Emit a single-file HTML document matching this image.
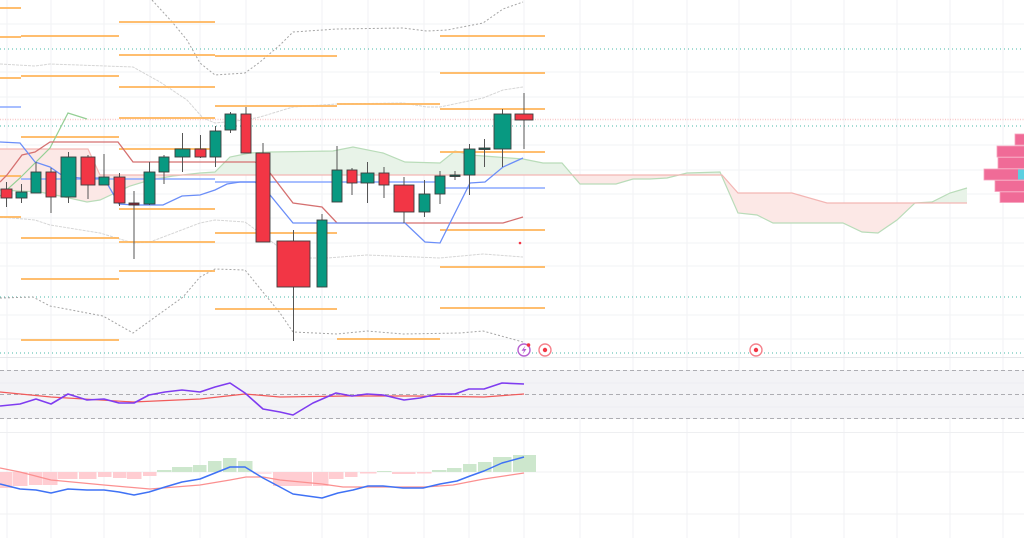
<!DOCTYPE html>
<html><head><meta charset="utf-8"><style>
html,body{margin:0;padding:0;background:#fff;}
svg{display:block;}
</style></head><body>
<svg width="1024" height="538" viewBox="0 0 1024 538" xmlns="http://www.w3.org/2000/svg">
<defs>
<clipPath id="belowB"><polygon points="0,149 88,149 100,175 722,175 738,193 792,193 827,203 967,203 967,538 0,538"/></clipPath>
<clipPath id="aboveB"><polygon points="0,149 88,149 100,175 722,175 738,193 792,193 827,203 967,203 967,0 0,0"/></clipPath>
</defs>
<rect width="1024" height="538" fill="#fff"/>
<!-- vertical grid -->
<g stroke="#f1f2f4" stroke-width="1">
<line x1="7" y1="0" x2="7" y2="538"/><line x1="51" y1="0" x2="51" y2="538"/><line x1="104" y1="0" x2="104" y2="538"/><line x1="150" y1="0" x2="150" y2="538"/><line x1="200" y1="0" x2="200" y2="538"/><line x1="246" y1="0" x2="246" y2="538"/><line x1="322" y1="0" x2="322" y2="538"/><line x1="368" y1="0" x2="368" y2="538"/><line x1="424" y1="0" x2="424" y2="538"/><line x1="469" y1="0" x2="469" y2="538"/><line x1="524" y1="0" x2="524" y2="538"/><line x1="580" y1="0" x2="580" y2="538"/><line x1="633" y1="0" x2="633" y2="538"/><line x1="687" y1="0" x2="687" y2="538"/><line x1="739" y1="0" x2="739" y2="538"/><line x1="791" y1="0" x2="791" y2="538"/><line x1="844" y1="0" x2="844" y2="538"/><line x1="897" y1="0" x2="897" y2="538"/><line x1="950" y1="0" x2="950" y2="538"/><line x1="1003" y1="0" x2="1003" y2="538"/>
</g>
<!-- horizontal grid main -->
<g stroke="#f2f3f5" stroke-width="1">
<line x1="0" y1="24" x2="1024" y2="24"/><line x1="0" y1="72" x2="1024" y2="72"/><line x1="0" y1="97" x2="1024" y2="97"/><line x1="0" y1="145" x2="1024" y2="145"/><line x1="0" y1="170" x2="1024" y2="170"/><line x1="0" y1="194" x2="1024" y2="194"/><line x1="0" y1="218" x2="1024" y2="218"/><line x1="0" y1="243" x2="1024" y2="243"/><line x1="0" y1="266" x2="1024" y2="266"/><line x1="0" y1="315" x2="1024" y2="315"/><line x1="0" y1="339" x2="1024" y2="339"/>
</g>
<!-- cloud fills -->
<g clip-path="url(#aboveB)">
<polygon fill="#fbe6e4" points="0,190 40,192 60,196 87,202 100,200 130,186 150,180 173,176 200,173 215,172 230,157 250,153 270,152 333,151 353,147 383,153 405,162 440,163 455,151 470,155 497,157 523,159 543,163 562,163 580,184 616,184 633,179 650,179 667,178 687,173 720,172 738,213 757,215 773,223 843,223 862,232 878,233 897,220 915,203 932,202 950,193 967,188 967,0 0,0" transform="scale(1,1)" style="display:none"/>
</g>
<!-- green: below A and above B -->
<g clip-path="url(#aboveB)">
<polygon fill="#e8f3e8" points="0,190 40,192 60,196 87,202 100,200 130,186 150,180 173,176 200,173 215,172 230,157 250,153 270,152 333,151 353,147 383,153 405,162 440,163 455,151 470,155 497,157 523,159 543,163 562,163 580,184 616,184 633,179 650,179 667,178 687,173 720,172 738,213 757,215 773,223 843,223 862,232 878,233 897,220 915,203 932,202 950,193 967,188 967,538 0,538"/>
</g>
<!-- red: above A and below B -->
<g clip-path="url(#belowB)">
<polygon fill="#fce8e6" points="0,190 40,192 60,196 87,202 100,200 130,186 150,180 173,176 200,173 215,172 230,157 250,153 270,152 333,151 353,147 383,153 405,162 440,163 455,151 470,155 497,157 523,159 543,163 562,163 580,184 616,184 633,179 650,179 667,178 687,173 720,172 738,213 757,215 773,223 843,223 862,232 878,233 897,220 915,203 932,202 950,193 967,188 967,0 0,0"/>
</g>
<polyline fill="none" stroke="#b9dcb9" stroke-width="1.2" points="0,190 40,192 60,196 87,202 100,200 130,186 150,180 173,176 200,173 215,172 230,157 250,153 270,152 333,151 353,147 383,153 405,162 440,163 455,151 470,155 497,157 523,159 543,163 562,163 580,184 616,184 633,179 650,179 667,178 687,173 720,172 738,213 757,215 773,223 843,223 862,232 878,233 897,220 915,203 932,202 950,193 967,188"/>
<polyline fill="none" stroke="#f3b6b4" stroke-width="1.2" points="0,149 88,149 100,175 722,175 738,193 792,193 827,203 967,203"/>
<!-- dotted levels -->
<line x1="0" y1="119.5" x2="1024" y2="119.5" stroke="#f6b3b3" stroke-width="1.5" stroke-dasharray="1 1.5" opacity="0.7"/>
<g stroke="#3fb5a5" stroke-width="1.2" stroke-dasharray="1 3" opacity="0.75">
<line x1="0" y1="49" x2="1024" y2="49"/><line x1="0" y1="126" x2="1024" y2="126"/><line x1="0" y1="297" x2="1024" y2="297"/><line x1="0" y1="353" x2="1024" y2="353"/>
</g>
<!-- gray bands -->
<polyline fill="none" stroke="#a5a5a5" stroke-width="1" stroke-dasharray="2 2" points="152,0 173,23 187,40 200,63 215,75 245,73 260,62 280,45 293,32 337,29 403,28 427,31 447,30 483,23 503,9 523,2"/>
<polyline fill="none" stroke="#a5a5a5" stroke-width="1" stroke-dasharray="2 2" points="0,298 33,297 50,306 103,316 133,333 183,297 200,277 215,269 245,270 280,313 293,332 337,334 367,331 403,334 460,333 483,331 523,342"/>
<polyline fill="none" stroke="#d6d6d6" stroke-width="1" stroke-dasharray="3 1" points="0,64 35,66 50,64 133,67 160,82 187,100 203,118 215,123 245,120 260,117 293,107 337,104 403,103 427,107 440,107 483,98 503,90 523,87"/>
<polyline fill="none" stroke="#d6d6d6" stroke-width="1" stroke-dasharray="3 1" points="0,217 35,220 50,225 100,233 133,243 150,242 200,223 215,220 245,222 263,235 293,258 327,258 367,255 440,258 483,254 523,257"/>
<!-- orange pivot levels -->
<g stroke="#ffb860" stroke-width="2" opacity="0.9">
<line x1="0" y1="8" x2="21" y2="8"/><line x1="0" y1="37" x2="21" y2="37"/><line x1="0" y1="78" x2="21" y2="78"/><line x1="0" y1="176" x2="21" y2="176"/><line x1="0" y1="217" x2="21" y2="217"/>
<line x1="21" y1="36" x2="119" y2="36"/><line x1="21" y1="76" x2="119" y2="76"/><line x1="21" y1="137" x2="119" y2="137"/><line x1="21" y1="238" x2="119" y2="238"/><line x1="21" y1="279" x2="119" y2="279"/><line x1="21" y1="340" x2="119" y2="340"/>
<line x1="119" y1="22" x2="215" y2="22"/><line x1="119" y1="55" x2="215" y2="55"/><line x1="119" y1="87" x2="215" y2="87"/><line x1="119" y1="118" x2="215" y2="118"/><line x1="119" y1="149" x2="215" y2="149"/><line x1="119" y1="209" x2="215" y2="209"/><line x1="119" y1="242" x2="215" y2="242"/><line x1="119" y1="271" x2="215" y2="271"/>
<line x1="215" y1="56" x2="337" y2="56"/><line x1="215" y1="106" x2="337" y2="106"/><line x1="215" y1="233" x2="337" y2="233"/><line x1="215" y1="309" x2="337" y2="309"/>
<line x1="337" y1="104" x2="440" y2="104"/><line x1="337" y1="339" x2="440" y2="339"/>
<line x1="440" y1="36" x2="545" y2="36"/><line x1="440" y1="73" x2="545" y2="73"/><line x1="440" y1="109" x2="545" y2="109"/><line x1="440" y1="152" x2="545" y2="152"/><line x1="440" y1="230" x2="545" y2="230"/><line x1="440" y1="267" x2="545" y2="267"/><line x1="440" y1="308" x2="545" y2="308"/>
</g>
<!-- blue pivot P levels -->
<g stroke="#8aa8ff" stroke-width="1.6">
<line x1="0" y1="107" x2="21" y2="107"/><line x1="21" y1="179" x2="215" y2="179"/><line x1="215" y1="182" x2="440" y2="182"/><line x1="440" y1="188" x2="545" y2="188"/>
</g>
<!-- ichimoku lines -->
<polyline fill="none" stroke="#94cf94" stroke-width="1.2" points="0,196 20,178 50,148 68,113 87,119"/>
<polyline fill="none" stroke="#d57070" stroke-width="1.3" points="0,182 7,175 22,155 35,152 50,142 118,142 133,162 255,162 270,173 293,203 322,207 337,223 503,223 523,217"/>
<polyline fill="none" stroke="#6b8ef8" stroke-width="1.3" points="0,142 20,143 35,162 50,167 63,176 80,178 104,178 119,204 134,205 163,205 182,196 200,195 215,190 227,184 240,182 255,182 270,195 293,223 337,223 405,223 425,242 440,243 470,183 485,182 503,167 523,158"/>
<circle cx="520" cy="243" r="1.3" fill="#f23645"/>
<!-- candles -->
<g stroke="#555" stroke-width="1">
<line x1="6.5" y1="182" x2="6.5" y2="207"/><line x1="21.5" y1="184" x2="21.5" y2="203"/><line x1="36" y1="162" x2="36" y2="193"/><line x1="51" y1="168" x2="51" y2="213"/><line x1="68.5" y1="152" x2="68.5" y2="203"/><line x1="88" y1="155" x2="88" y2="199"/><line x1="104" y1="154" x2="104" y2="185"/><line x1="119.5" y1="173" x2="119.5" y2="206"/><line x1="134" y1="191" x2="134" y2="259"/><line x1="149.5" y1="162" x2="149.5" y2="205"/><line x1="164" y1="155" x2="164" y2="184"/><line x1="182.5" y1="133" x2="182.5" y2="172"/><line x1="200.5" y1="135" x2="200.5" y2="158"/><line x1="215.5" y1="126" x2="215.5" y2="167"/><line x1="230.5" y1="112" x2="230.5" y2="133"/><line x1="246" y1="107" x2="246" y2="153"/><line x1="263" y1="143" x2="263" y2="242"/><line x1="293.5" y1="230" x2="293.5" y2="341"/><line x1="322" y1="214" x2="322" y2="287"/><line x1="337" y1="146" x2="337" y2="202"/><line x1="352" y1="168" x2="352" y2="195"/><line x1="367.5" y1="162" x2="367.5" y2="203"/><line x1="384" y1="167" x2="384" y2="198"/><line x1="404" y1="177" x2="404" y2="223"/><line x1="424.5" y1="180" x2="424.5" y2="217"/><line x1="440" y1="171" x2="440" y2="204"/><line x1="455" y1="171" x2="455" y2="180"/><line x1="469.5" y1="144" x2="469.5" y2="195"/><line x1="484.5" y1="139" x2="484.5" y2="167"/><line x1="502.5" y1="109" x2="502.5" y2="167"/><line x1="524" y1="93" x2="524" y2="149"/>
</g>
<g stroke="#3d3d3d" stroke-width="0.9">
<rect x="1" y="189" width="11" height="9" fill="#f23645"/>
<rect x="16" y="192" width="11" height="6" fill="#089981"/>
<rect x="31" y="172" width="10" height="21" fill="#089981"/>
<rect x="46" y="172" width="10" height="25" fill="#f23645"/>
<rect x="61" y="157" width="15" height="40" fill="#089981"/>
<rect x="81" y="157" width="14" height="28" fill="#f23645"/>
<rect x="99" y="177" width="10" height="8" fill="#089981"/>
<rect x="114" y="177" width="11" height="26" fill="#f23645"/>
<rect x="129" y="203" width="10" height="2" fill="#8b1f2e"/>
<rect x="144" y="172" width="11" height="32" fill="#089981"/>
<rect x="159" y="157" width="10" height="15" fill="#089981"/>
<rect x="175" y="149" width="15" height="8" fill="#089981"/>
<rect x="195" y="149" width="11" height="8" fill="#f23645"/>
<rect x="210" y="131" width="11" height="26" fill="#089981"/>
<rect x="225" y="114" width="11" height="16" fill="#089981"/>
<rect x="241" y="114" width="10" height="39" fill="#f23645"/>
<rect x="256" y="153" width="14" height="89" fill="#f23645"/>
<rect x="277" y="241" width="33" height="46" fill="#f23645"/>
<rect x="317" y="220" width="10" height="67" fill="#089981"/>
<rect x="332" y="170" width="10" height="32" fill="#089981"/>
<rect x="347" y="170" width="10" height="13" fill="#f23645"/>
<rect x="361" y="173" width="13" height="10" fill="#089981"/>
<rect x="379" y="173" width="10" height="12" fill="#f23645"/>
<rect x="394" y="185" width="20" height="27" fill="#f23645"/>
<rect x="419" y="194" width="11" height="18" fill="#089981"/>
<rect x="435" y="176" width="10" height="18" fill="#089981"/>
<rect x="450" y="175" width="10" height="1.5" fill="#0a5b4d"/>
<rect x="464" y="149" width="11" height="26" fill="#089981"/>
<rect x="479" y="148" width="11" height="1.5" fill="#0a5b4d"/>
<rect x="494" y="114" width="17" height="35" fill="#089981"/>
<rect x="515" y="114" width="18" height="6" fill="#f23645"/>
</g>
<!-- volume profile -->
<g fill="#f06b97" stroke="#f7a3be" stroke-width="0.8">
<rect x="1015" y="134" width="10" height="11"/>
<rect x="997" y="146" width="28" height="11"/>
<rect x="998" y="157.5" width="27" height="11"/>
<rect x="984" y="169" width="41" height="11"/>
<rect x="995" y="180.5" width="30" height="11"/>
<rect x="1000" y="192" width="25" height="10.5"/>
</g>
<rect x="1018" y="169.5" width="6" height="10" fill="#5ccfe0"/>
<!-- icons -->
<circle cx="524" cy="350" r="6" fill="#fff" stroke="#b65fd0" stroke-width="1.4"/>
<path d="M525.5,345.5 L521.5,350.8 L524,350.8 L522.5,354.5 L526.5,349 L524,349 Z" fill="#b65fd0"/>
<circle cx="528.5" cy="345" r="1.8" fill="#f23645"/>
<circle cx="545" cy="350" r="6" fill="#fff" stroke="#f5828c" stroke-width="1.4"/>
<circle cx="545" cy="350" r="2.2" fill="#f23645"/>
<circle cx="756" cy="350" r="6" fill="#fff" stroke="#f5828c" stroke-width="1.4"/>
<circle cx="756" cy="350" r="2.2" fill="#f23645"/>
<!-- pane separators -->
<line x1="0" y1="357.5" x2="1024" y2="357.5" stroke="#e6e7ea" stroke-width="1"/>
<line x1="0" y1="432.5" x2="1024" y2="432.5" stroke="#eeeff1" stroke-width="1"/>
<!-- RSI pane -->
<rect x="0" y="370" width="1024" height="49" fill="#f3f3f6"/>
<g stroke="#eceef2" stroke-width="1"><line x1="0" y1="383" x2="1024" y2="383"/><line x1="0" y1="407" x2="1024" y2="407"/></g>
<g stroke="#adadb2" stroke-width="1" stroke-dasharray="4 3">
<line x1="0" y1="370.5" x2="1024" y2="370.5"/><line x1="0" y1="394.5" x2="1024" y2="394.5"/><line x1="0" y1="418.5" x2="1024" y2="418.5"/>
</g>
<polyline fill="none" stroke="#f25a5a" stroke-width="1.2" points="0,392 51,397 133,402 200,399 245,394 280,397 347,396 413,396 484,397 524,394"/>
<polyline fill="none" stroke="#7f3cf0" stroke-width="1.6" stroke-linejoin="round" points="0,406 20,404 36,399 51,404 68,394 87,400 104,399 119,403 134,403 149,395 165,392 182,390 200,392 215,387 230,383 245,393 263,409 280,412 293,415 313,403 336,393 352,396 367,394 383,395 404,400 420,398 438,394 455,394 469,389 484,389 502,383 524,384"/>
<!-- MACD pane -->
<g stroke="#f0f1f3" stroke-width="1"><line x1="0" y1="472" x2="1024" y2="472"/><line x1="0" y1="514" x2="1024" y2="514"/></g>
<g fill="#ffcdd2">
<rect x="0" y="472" width="12.5" height="16"/><rect x="13" y="472" width="14.5" height="14"/><rect x="29" y="472" width="13.5" height="13"/><rect x="43" y="472" width="14.5" height="13"/><rect x="58" y="472" width="19.5" height="7"/><rect x="79" y="472" width="17.5" height="7"/><rect x="98" y="472" width="13.5" height="5"/><rect x="113" y="472" width="13.5" height="6"/><rect x="127" y="472" width="14.5" height="7"/><rect x="143" y="472" width="13.5" height="4"/>
<rect x="253" y="472" width="18.5" height="2" fill="#ffe3e6"/>
<rect x="273" y="472" width="39" height="14"/><rect x="313" y="472" width="15.5" height="14"/><rect x="329" y="472" width="14.5" height="7"/><rect x="345" y="472" width="12.5" height="5"/><rect x="360" y="472" width="16.5" height="1.5"/>
<rect x="392" y="472" width="23.5" height="2"/><rect x="417" y="472" width="14.5" height="1.5"/>
</g>
<g fill="#cde7cd">
<rect x="157" y="470" width="14.5" height="2"/><rect x="172" y="467" width="20.5" height="5"/><rect x="193" y="465" width="13.5" height="7"/><rect x="208" y="461" width="13.5" height="11"/><rect x="223" y="458" width="13.5" height="14"/><rect x="238" y="461" width="14.5" height="11"/>
<rect x="377" y="471" width="14.5" height="1"/>
<rect x="432" y="470" width="14.5" height="2"/><rect x="447" y="468" width="14.5" height="4"/><rect x="463" y="464" width="13.5" height="8"/><rect x="478" y="462" width="13.5" height="10"/><rect x="493" y="457" width="18.5" height="15"/><rect x="513" y="455" width="23" height="17"/>
</g>
<polyline fill="none" stroke="#fb9090" stroke-width="1.2" points="0,468 20,472 51,480 104,485 150,489 200,485 230,480 246,477 263,477 280,480 322,484 343,487 380,487 425,487 453,485 484,479 524,473"/>
<polyline fill="none" stroke="#3f72f5" stroke-width="1.5" stroke-linejoin="round" points="0,484 20,489 36,490 51,493 68,489 87,490 104,490 119,492 134,495 149,492 165,487 182,482 200,479 215,473 230,467 245,467 263,478 280,487 293,494 322,498 338,493 353,490 368,486 383,486 403,488 423,488 440,484 457,481 470,476 484,471 502,463 524,457"/>
</svg>
</body></html>
